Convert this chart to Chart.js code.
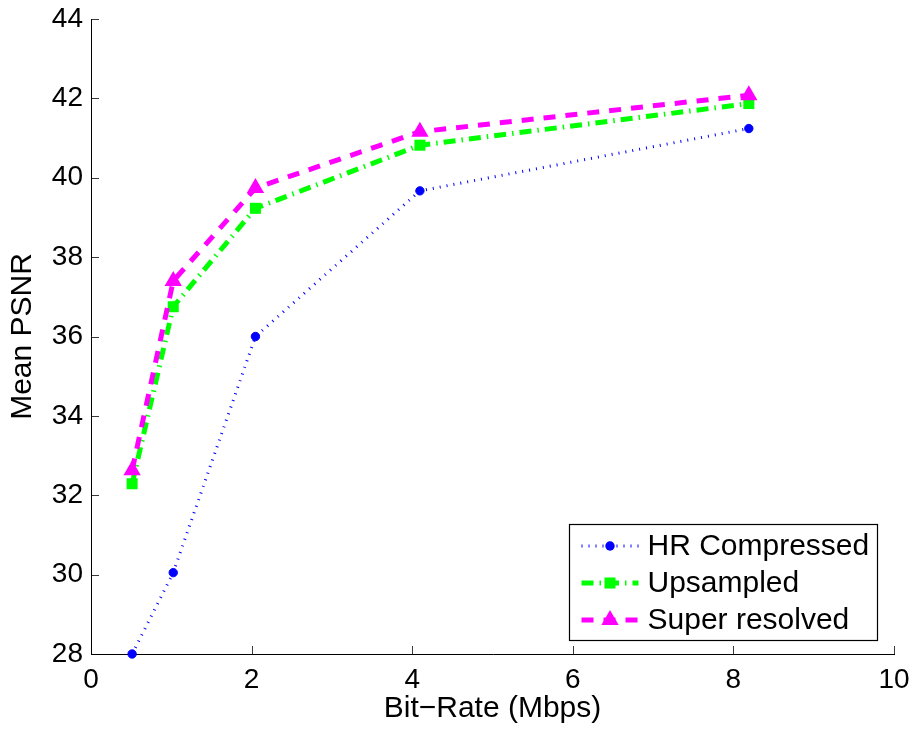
<!DOCTYPE html>
<html><head><meta charset="utf-8">
<script src="https://cdn.jsdelivr.net/npm/chart.js@4.4.1/dist/chart.umd.min.js"></script>
<style>html,body{margin:0;padding:0;background:#fff}</style>
</head><body>
<canvas id="c" width="915" height="730" style="width:915px;height:730px;display:block"></canvas>
<script>
// ---- data ----
const bitRates = [0.512, 1.024, 2.048, 4.096, 8.192];
const hrCompressed = [28.0, 30.05, 36.0, 39.67, 41.24];
const upsampled = [32.29, 36.75, 39.23, 40.82, 41.87];
const superResolved = [32.63, 37.40, 39.74, 41.16, 42.08];
const seriesNames = ['HR Compressed', 'Upsampled', 'Super resolved'];
const xTicks = [0, 2, 4, 6, 8, 10];
const yTicks = [28, 30, 32, 34, 36, 38, 40, 42, 44];
const xTitle = 'Bit\u2212Rate (Mbps)';
const yTitle = 'Mean PSNR';

const FONT = "'Liberation Sans', Arial, Helvetica, sans-serif";
const toXY = arr => arr.map((v, i) => ({x: bitRates[i], y: v}));

const datasets = [
  {
    label: seriesNames[0], data: toXY(hrCompressed),
    borderColor: '#0000ff', backgroundColor: '#0000ff', borderWidth: 3,
    borderDash: [1, 6], pointStyle: 'circle', pointRadius: 4.2,
    pointBackgroundColor: '#0000ff', pointBorderColor: '#0000ff', pointBorderWidth: 1, order: 3
  },
  {
    label: seriesNames[1], data: toXY(upsampled),
    borderColor: '#00ff00', backgroundColor: '#00ff00', borderWidth: 5,
    borderDash: [12, 6, 1.5, 6], pointStyle: 'rect', pointRadius: 7.8,
    pointBackgroundColor: '#00ff00', pointBorderColor: '#00ff00', pointBorderWidth: 0, order: 2
  },
  {
    label: seriesNames[2], data: toXY(superResolved),
    borderColor: '#ff00ff', backgroundColor: '#ff00ff', borderWidth: 5,
    borderDash: [12, 10], pointStyle: 'triangle', pointRadius: 10,
    pointBackgroundColor: '#ff00ff', pointBorderColor: '#ff00ff', pointBorderWidth: 0, order: 1
  }
];

function drawMarker(ctx, style, r, x, y, color) {
  ctx.save();
  ctx.fillStyle = color;
  ctx.beginPath();
  if (style === 'circle') {
    ctx.arc(x, y, r, 0, Math.PI * 2);
  } else if (style === 'rect') {
    const s = r * Math.SQRT1_2;
    ctx.rect(x - s, y - s, 2 * s, 2 * s);
  } else if (style === 'triangle') {
    const a = 2 * Math.PI / 3;
    ctx.moveTo(x, y - r);
    ctx.lineTo(x + Math.sin(a) * r, y - Math.cos(a) * r);
    ctx.lineTo(x + Math.sin(-a) * r, y - Math.cos(-a) * r);
    ctx.closePath();
  }
  ctx.fill();
  ctx.restore();
}

const axesPlugin = {
  id: 'axesPlugin',
  beforeDatasetsDraw(chart) {
    const {ctx, chartArea: ca, scales: {x, y}} = chart;
    ctx.save();
    ctx.strokeStyle = '#3a3a3a';
    ctx.lineWidth = 1;
    const tl = 8;
    ctx.beginPath();
    xTicks.forEach(v => {
      const px = Math.round(x.getPixelForValue(v)) + 0.5;
      ctx.moveTo(px, ca.bottom); ctx.lineTo(px, ca.bottom - tl);
    });
    yTicks.forEach(v => {
      const py = Math.round(y.getPixelForValue(v)) + 0.5;
      ctx.moveTo(ca.left, py); ctx.lineTo(ca.left + tl, py);
    });
    ctx.stroke();
    ctx.strokeStyle = '#000';
    ctx.beginPath();
    const lx = Math.round(ca.left) + 0.5, by = Math.round(ca.bottom) + 0.5;
    ctx.moveTo(lx, Math.round(ca.top)); ctx.lineTo(lx, by);
    ctx.lineTo(Math.round(ca.right) + 1, by);
    ctx.stroke();
    ctx.restore();
  },
  afterDatasetsDraw(chart) {
    const {ctx, chartArea: ca} = chart;
    const bw = 308, bh = 116;
    const bx = Math.round(ca.right - 17 - bw) + 0.5;
    const by = Math.round(ca.bottom - 14 - bh) + 0.5;
    ctx.save();
    ctx.fillStyle = '#fff';
    ctx.fillRect(bx, by, bw, bh);
    ctx.strokeStyle = '#000';
    ctx.lineWidth = 1.2;
    ctx.strokeRect(bx, by, bw, bh);
    const rowY = [21.5, 58.5, 95.5];
    chart.data.datasets.forEach((ds, i) => {
      const yy = by + rowY[i];
      const x0 = bx + 12, x1 = bx + 69, xm = (x0 + x1) / 2;
      ctx.save();
      ctx.strokeStyle = ds.borderColor;
      ctx.lineWidth = ds.borderWidth;
      ctx.setLineDash(ds.borderDash);
      ctx.lineCap = 'butt';
      ctx.beginPath(); ctx.moveTo(x0, yy); ctx.lineTo(x1, yy); ctx.stroke();
      ctx.restore();
      drawMarker(ctx, ds.pointStyle, ds.pointRadius + (ds.pointBorderWidth || 0) / 2, xm, yy, ds.pointBackgroundColor);
      ctx.fillStyle = '#000';
      ctx.font = '30px ' + FONT;
      ctx.textBaseline = 'middle';
      ctx.textAlign = 'left';
      ctx.fillText(ds.label, bx + 78, yy + 1);
    });
    ctx.restore();
  }
};

Chart.defaults.color = '#000';
Chart.defaults.font.family = FONT;

const noPad = s => { s.paddingTop = 0; s.paddingBottom = 0; s.paddingLeft = 0; s.paddingRight = 0; };

new Chart(document.getElementById('c'), {
  type: 'line',
  data: {datasets},
  options: {
    responsive: false, animation: false, devicePixelRatio: 1,
    layout: {padding: {top: 19, right: 21, left: 0, bottom: 0}},
    elements: {line: {tension: 0, fill: false}},
    datasets: {line: {clip: false}},
    plugins: {legend: {display: false}, tooltip: {enabled: false}},
    scales: {
      x: {
        type: 'linear', min: 0, max: 10,
        afterBuildTicks: s => { s.ticks = xTicks.map(v => ({value: v})); },
        afterFit: s => { s.height = 76; noPad(s); },
        grid: {display: false, drawTicks: false},
        border: {display: false},
        ticks: {padding: 9, font: {size: 28}, color: '#000', maxRotation: 0, autoSkip: false},
        title: {display: true, text: xTitle, font: {size: 30}, color: '#000', padding: {top: 0, bottom: 3.5}}
      },
      y: {
        type: 'linear', min: 28, max: 44,
        afterBuildTicks: s => { s.ticks = yTicks.map(v => ({value: v})); },
        afterFit: s => { s.width = 91; noPad(s); },
        grid: {display: false, drawTicks: false},
        border: {display: false},
        ticks: {padding: 8, font: {size: 28}, color: '#000', autoSkip: false},
        title: {display: true, text: yTitle, font: {size: 30}, color: '#000', padding: {top: 5, bottom: 0}}
      }
    }
  },
  plugins: [axesPlugin]
});
</script>
</body></html>
